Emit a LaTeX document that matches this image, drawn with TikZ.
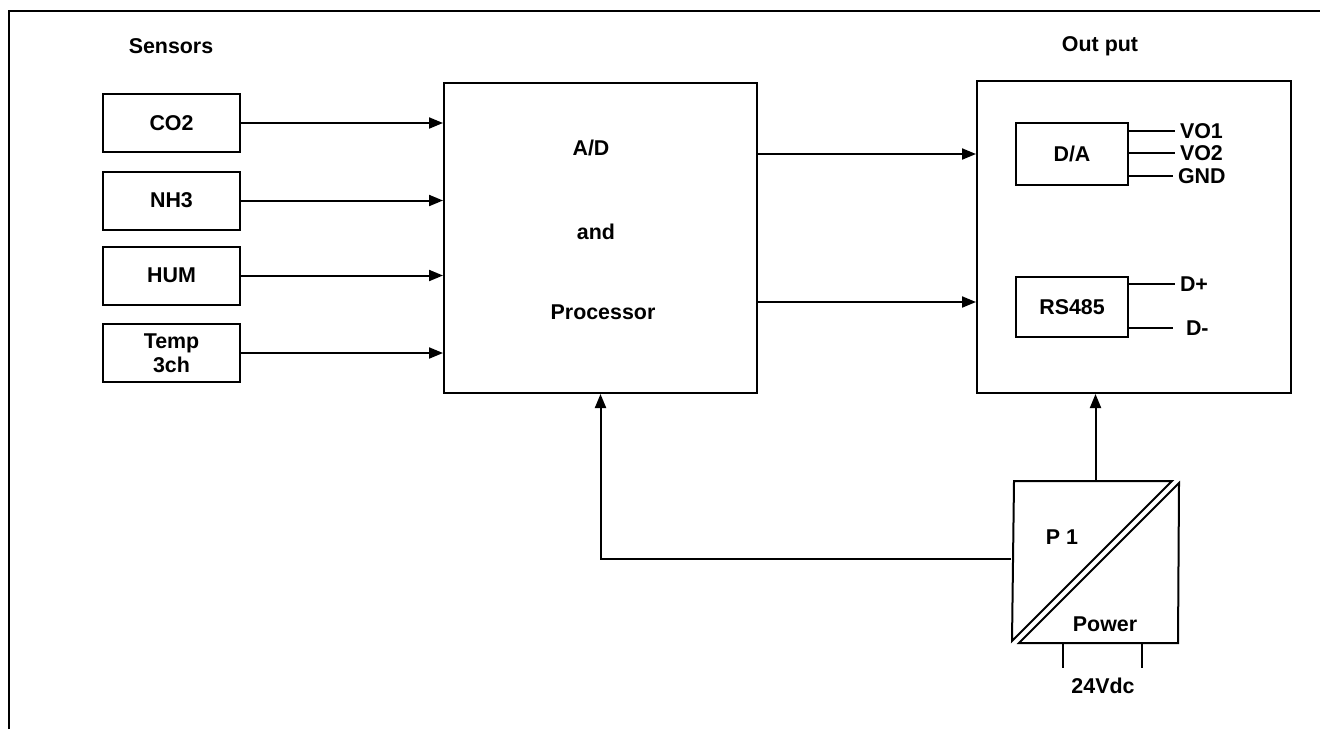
\documentclass[tikz,border=0pt]{standalone}
\usepackage{fontspec}
\setmainfont{Liberation Sans}
\usetikzlibrary{arrows.meta}

\begin{document}
\begin{tikzpicture}[
        x=0.5pt, y=-0.5pt,
        every node/.style={font=\fontsize{10.7}{12}\selectfont\bfseries},
        sensor/.style={draw, rectangle, minimum width=68.5pt, minimum height=29pt, align=center, inner sep=0pt},
        block/.style={draw, rectangle, inner sep=0pt},
        port/.style={anchor=west, inner sep=2pt},
        >={Triangle[length=7pt,width=5.5pt]},
        line width=1pt
    ]
        \useasboundingbox (0,0) rectangle (1320,729);
        % frame
        \draw (9,729) -- (9,11) -- (1320,11);

        \node (sensors) at (171,46) {Sensors};
        \node (outtitle) at (1100,46) {Out put};

        % sensors
        \node[sensor] (co2) at (171.5,123) {CO2};
        \node[sensor] (nh3) at (171.5,200.5) {NH3};
        \node[sensor] (hum) at (171.5,275.5) {HUM};
        \node[sensor] (temp) at (171.5,353) {Temp\\3ch};

        % processor
        \node[block, minimum width=156.5pt, minimum height=155pt] (proc) at (600.5,238) {};
        \node (ad) at (591,148) {A/D};
        \node (and) at (596,232) {and};
        \node (cpu) at (603,312) {Processor};

        % output
        \node[block, minimum width=157pt, minimum height=156pt] (out) at (1134,237) {};
        \node[block, minimum width=56pt, minimum height=31pt] (da) at (1072,154) {D/A};
        \node[block, minimum width=56pt, minimum height=30pt] (rs) at (1072,307) {RS485};

        \node[port] (vo1) at (1175,131) {VO1};
        \node[port] (vo2) at (1175,153) {VO2};
        \node[port] (gnd) at (1173,176) {GND};
        \node[port] (dp) at (1175,284) {D+};
        \node[port] (dm) at (1181,328) {D-};

        % power
        \node[minimum width=83.5pt, minimum height=81pt, inner sep=0pt] (pw) at (1095.5,562) {};
        \draw[line join=miter] (1014,481) -- (1172,481) -- (1012,641) -- cycle;
        \draw[line join=miter] (1179,483) -- (1178,643) -- (1019,643) -- cycle;
        \node (p1) at (1062,537) {P 1};
        \node (power) at (1105,624) {Power};
        \draw (1063,643) -- (1063,668);
        \draw (1142,643) -- (1142,668);
        \node (vdc) at (1103,686) {24Vdc};

        % connections
        \draw[->] (co2) -- (co2 -| proc.west);
        \draw[->] (nh3) -- (nh3 -| proc.west);
        \draw[->] (hum) -- (hum -| proc.west);
        \draw[->] (temp) -- (temp -| proc.west);
        \draw[->] (proc.east |- da) -- (out.west |- da);
        \draw[->] (proc.east |- 0,302) -- (out.west |- 0,302);
        \draw (da.east |- vo1) -- (vo1.west);
        \draw (da.east |- vo2) -- (vo2.west);
        \draw (da.east |- gnd) -- (gnd.west);
        \draw (rs.east |- dp) -- (dp.west);
        \draw (rs.east |- dm) -- (1173,328);
        \draw[->] (pw.north) -- (pw.north |- out.south);
        \draw[->] (pw.west |- 0,559) -| (proc.south);
    \end{tikzpicture}
\end{document}
